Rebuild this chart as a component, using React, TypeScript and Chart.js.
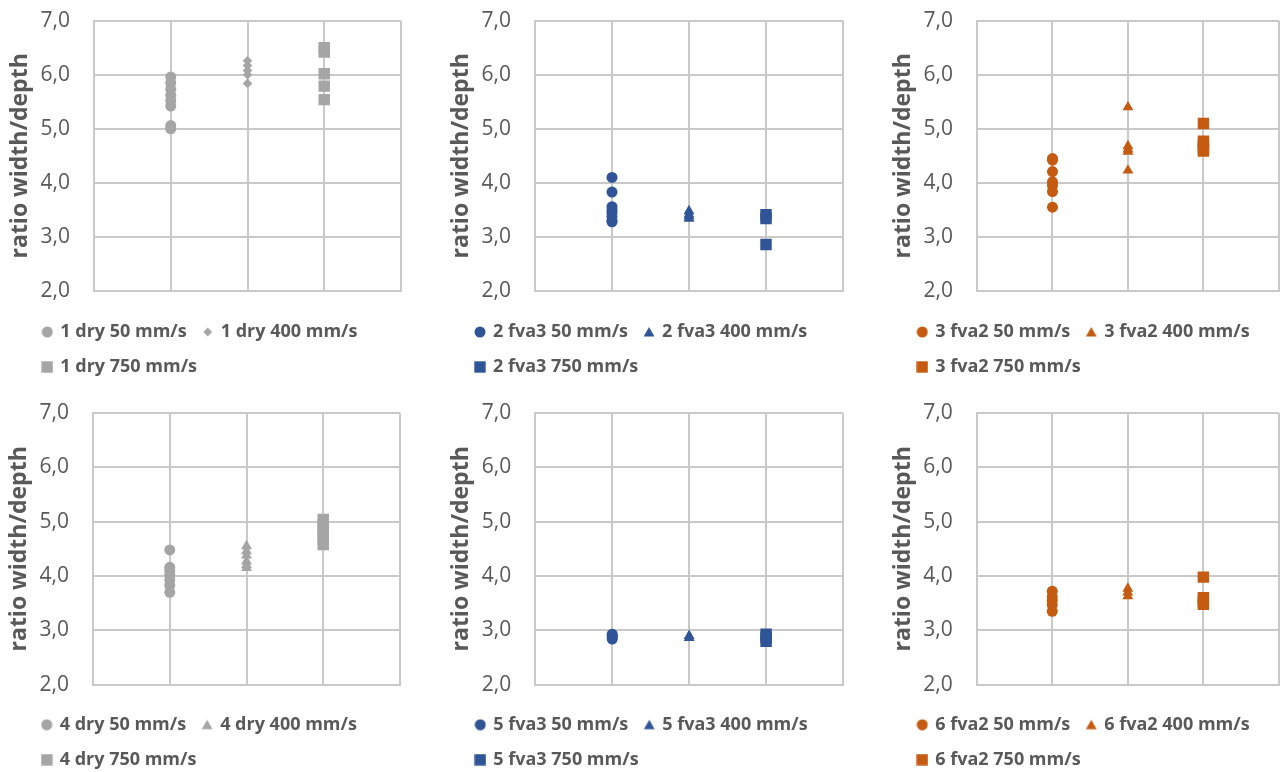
import React, { useEffect, useRef } from 'react';
import { Chart, registerables } from 'chart.js';

Chart.register(...registerables);

// ---- data ----
const speedX = [1, 2, 3];
const speedLabels = ['50 mm/s', '400 mm/s', '750 mm/s'];
const yTickValues = [2, 3, 4, 5, 6, 7];
const yTitle = 'ratio width/depth';

const s1_50 = [5.96, 5.85, 5.73, 5.62, 5.52, 5.42, 5.06, 5.0];
const s1_400 = [6.26, 6.17, 6.08, 6.0, 5.84];
const s1_750 = [6.5, 6.42, 6.02, 5.79, 5.54];

const s2_50 = [4.1, 3.83, 3.56, 3.5, 3.45, 3.38, 3.3, 3.28];
const s2_400 = [3.48, 3.42, 3.38, 3.34];
const s2_750 = [3.41, 3.34, 2.86];

const s3_50 = [4.45, 4.42, 4.21, 4.02, 3.95, 3.84, 3.55];
const s3_400 = [5.4, 4.68, 4.62, 4.58, 4.23];
const s3_750 = [5.1, 4.77, 4.7, 4.64, 4.59];

const s4_50 = [4.48, 4.16, 4.1, 4.02, 3.93, 3.83, 3.7];
const s4_400 = [4.55, 4.46, 4.38, 4.27, 4.2, 4.15];
const s4_750 = [5.04, 4.95, 4.87, 4.78, 4.68, 4.58];

const s5_50 = [2.93, 2.9, 2.87, 2.84];
const s5_400 = [2.9, 2.86];
const s5_750 = [2.93, 2.87, 2.8];

const s6_50 = [3.72, 3.62, 3.55, 3.47, 3.35];
const s6_400 = [3.77, 3.7, 3.63];
const s6_750 = [3.98, 3.6, 3.53, 3.48];

const panelNames = ['1 dry', '2 fva3', '3 fva2', '4 dry', '5 fva3', '6 fva2'];
const panelSeries = [
  [s1_50, s1_400, s1_750],
  [s2_50, s2_400, s2_750],
  [s3_50, s3_400, s3_750],
  [s4_50, s4_400, s4_750],
  [s5_50, s5_400, s5_750],
  [s6_50, s6_400, s6_750],
];

// ---- styles / layout ----
const GREY = '#A5A5A5';
const BLUE = '#2F5597';
const ORANGE = '#C55A11';
const TEXT = '#595959';
const GRID = '#C9C9C9';
const FONT = "'Open Sans', 'Noto Sans', sans-serif";

const panelColors = [GREY, BLUE, ORANGE, GREY, BLUE, ORANGE];
const panelShapes = [
  ['circle', 'rectRot', 'rect'],
  ['circle', 'triangle', 'rect'],
  ['circle', 'triangle', 'rect'],
  ['circle', 'triangle', 'rect'],
  ['circle', 'triangle', 'rect'],
  ['circle', 'triangle', 'rect'],
];
const shapeRadius: Record<string, number> = { circle: 5.5, rect: 8.1, triangle: 6.3, rectRot: 4.8 };

// geometry per panel (canvas box + layout tuning)
const panelLayout = [
  { left: 0, top: 0, width: 430, height: 390, padL: 26.3, padR: 29, padT: 20.7, padB: 4, axisW: 67.7, titleOff: -6.3, xH: 15 },
  { left: 430, top: 0, width: 430, height: 390, padL: 29, padR: 17, padT: 20.7, padB: 4, axisW: 76, titleOff: 2, xH: 15 },
  { left: 860, top: 0, width: 427, height: 390, padL: 41.3, padR: 1, padT: 20.7, padB: 4, axisW: 75.7, titleOff: 1.7, xH: 15 },
  { left: 0, top: 390, width: 430, height: 400, padL: 25.7, padR: 30, padT: 23, padB: 11.3, axisW: 67.3, titleOff: -6.7, xH: 14 },
  { left: 430, top: 390, width: 430, height: 400, padL: 29.3, padR: 17, padT: 23, padB: 11.3, axisW: 76, titleOff: 1.7, xH: 14 },
  { left: 860, top: 390, width: 427, height: 400, padL: 41.3, padR: 1, padT: 23, padB: 11.3, axisW: 75.4, titleOff: 1.7, xH: 14 },
];

function makeMarker(shape: string, color: string) {
  const c = document.createElement('canvas');
  const size = 12;
  c.width = size;
  c.height = size;
  const ctx = c.getContext('2d')!;
  ctx.fillStyle = color;
  const m = size / 2;
  ctx.beginPath();
  if (shape === 'circle') {
    ctx.arc(m, m, 5.5, 0, Math.PI * 2);
  } else if (shape === 'rect') {
    ctx.rect(m - 5.7, m - 5.7, 11.4, 11.4);
  } else if (shape === 'rectRot') {
    ctx.moveTo(m, m - 4.4);
    ctx.lineTo(m + 4.4, m);
    ctx.lineTo(m, m + 4.4);
    ctx.lineTo(m - 4.4, m);
  } else {
    ctx.moveTo(m, m - 5);
    ctx.lineTo(m + 5.4, m + 4.6);
    ctx.lineTo(m - 5.4, m + 4.6);
  }
  ctx.closePath();
  ctx.fill();
  return c;
}

function Panel({ index }: { index: number }) {
  const ref = useRef<HTMLCanvasElement | null>(null);
  const lay = panelLayout[index];

  useEffect(() => {
    if (!ref.current) return;
    const color = panelColors[index];
    const shapes = panelShapes[index];
    const markers = shapes.map((s) => makeMarker(s, color));
    const datasets = panelSeries[index].map((vals, i) => ({
      label: `${panelNames[index]} ${speedLabels[i]}`,
      data: vals.map((v) => ({ x: speedX[i], y: v })),
      backgroundColor: color,
      borderColor: color,
      pointStyle: shapes[i],
      pointRadius: shapeRadius[shapes[i]],
      pointHoverRadius: shapeRadius[shapes[i]],
      pointBorderWidth: 0,
      showLine: false,
    }));
    const titleFont = { family: FONT, size: 23, weight: 'bold' as const };
    const titleLH = 23 * 1.2;
    const chart = new Chart(ref.current, {
      type: 'scatter',
      data: { datasets },
      options: {
        animation: false,
        responsive: false,
        layout: { padding: { left: lay.padL, right: lay.padR, top: lay.padT, bottom: lay.padB } },
        plugins: {
          tooltip: { enabled: false },
          legend: {
            position: 'bottom',
            align: 'start',
            labels: {
              usePointStyle: true,
              boxWidth: 8,
              boxHeight: 8,
              padding: 17,
              color: TEXT,
              font: { family: FONT, size: 18, weight: 'bold' },
              generateLabels: (ch: any) =>
                ch.data.datasets.map((ds: any, i: number) => ({
                  text: ds.label,
                  fillStyle: color,
                  strokeStyle: color,
                  lineWidth: 0,
                  pointStyle: markers[i],
                  hidden: false,
                  datasetIndex: i,
                  fontColor: TEXT,
                })),
            },
          },
        },
        scales: {
          x: {
            type: 'linear',
            min: 0,
            max: 4,
            ticks: { display: false, stepSize: 1 },
            grid: { color: GRID, lineWidth: 2, drawTicks: false },
            border: { color: GRID, width: 2 },
            afterFit: (s: any) => {
              s.height = lay.xH;
              s.paddingLeft = 0;
              s.paddingRight = 0;
            },
          },
          y: {
            type: 'linear',
            min: yTickValues[0],
            max: yTickValues[yTickValues.length - 1],
            afterBuildTicks: (s: any) => {
              s.ticks = yTickValues.map((v) => ({ value: v }));
            },
            ticks: {
              color: TEXT,
              padding: 24,
              font: { family: FONT, size: 21 },
              callback: (v: any) => Number(v).toFixed(1).replace('.', ','),
            },
            grid: { color: GRID, lineWidth: 2, drawTicks: false },
            border: { color: GRID, width: 2 },
            title: {
              display: true,
              text: yTitle,
              color: TEXT,
              font: titleFont,
              padding: { top: lay.titleOff - titleLH / 2, bottom: 0 },
            },
            afterFit: (s: any) => {
              s.width = lay.axisW;
              s.paddingTop = 0;
              s.paddingBottom = 0;
            },
          },
        },
      } as any,
    });
    return () => chart.destroy();
  }, [index]);

  return (
    <canvas
      ref={ref}
      width={lay.width}
      height={lay.height}
      style={{ position: 'absolute', left: lay.left, top: lay.top, width: lay.width, height: lay.height }}
    />
  );
}

export default function App() {
  return (
    <div
      style={{
        position: 'fixed',
        left: 0,
        top: 0,
        width: 1287,
        height: 772,
        overflow: 'hidden',
        background: '#ffffff',
      }}
    >
      {panelNames.map((_, i) => (
        <Panel key={i} index={i} />
      ))}
    </div>
  );
}
